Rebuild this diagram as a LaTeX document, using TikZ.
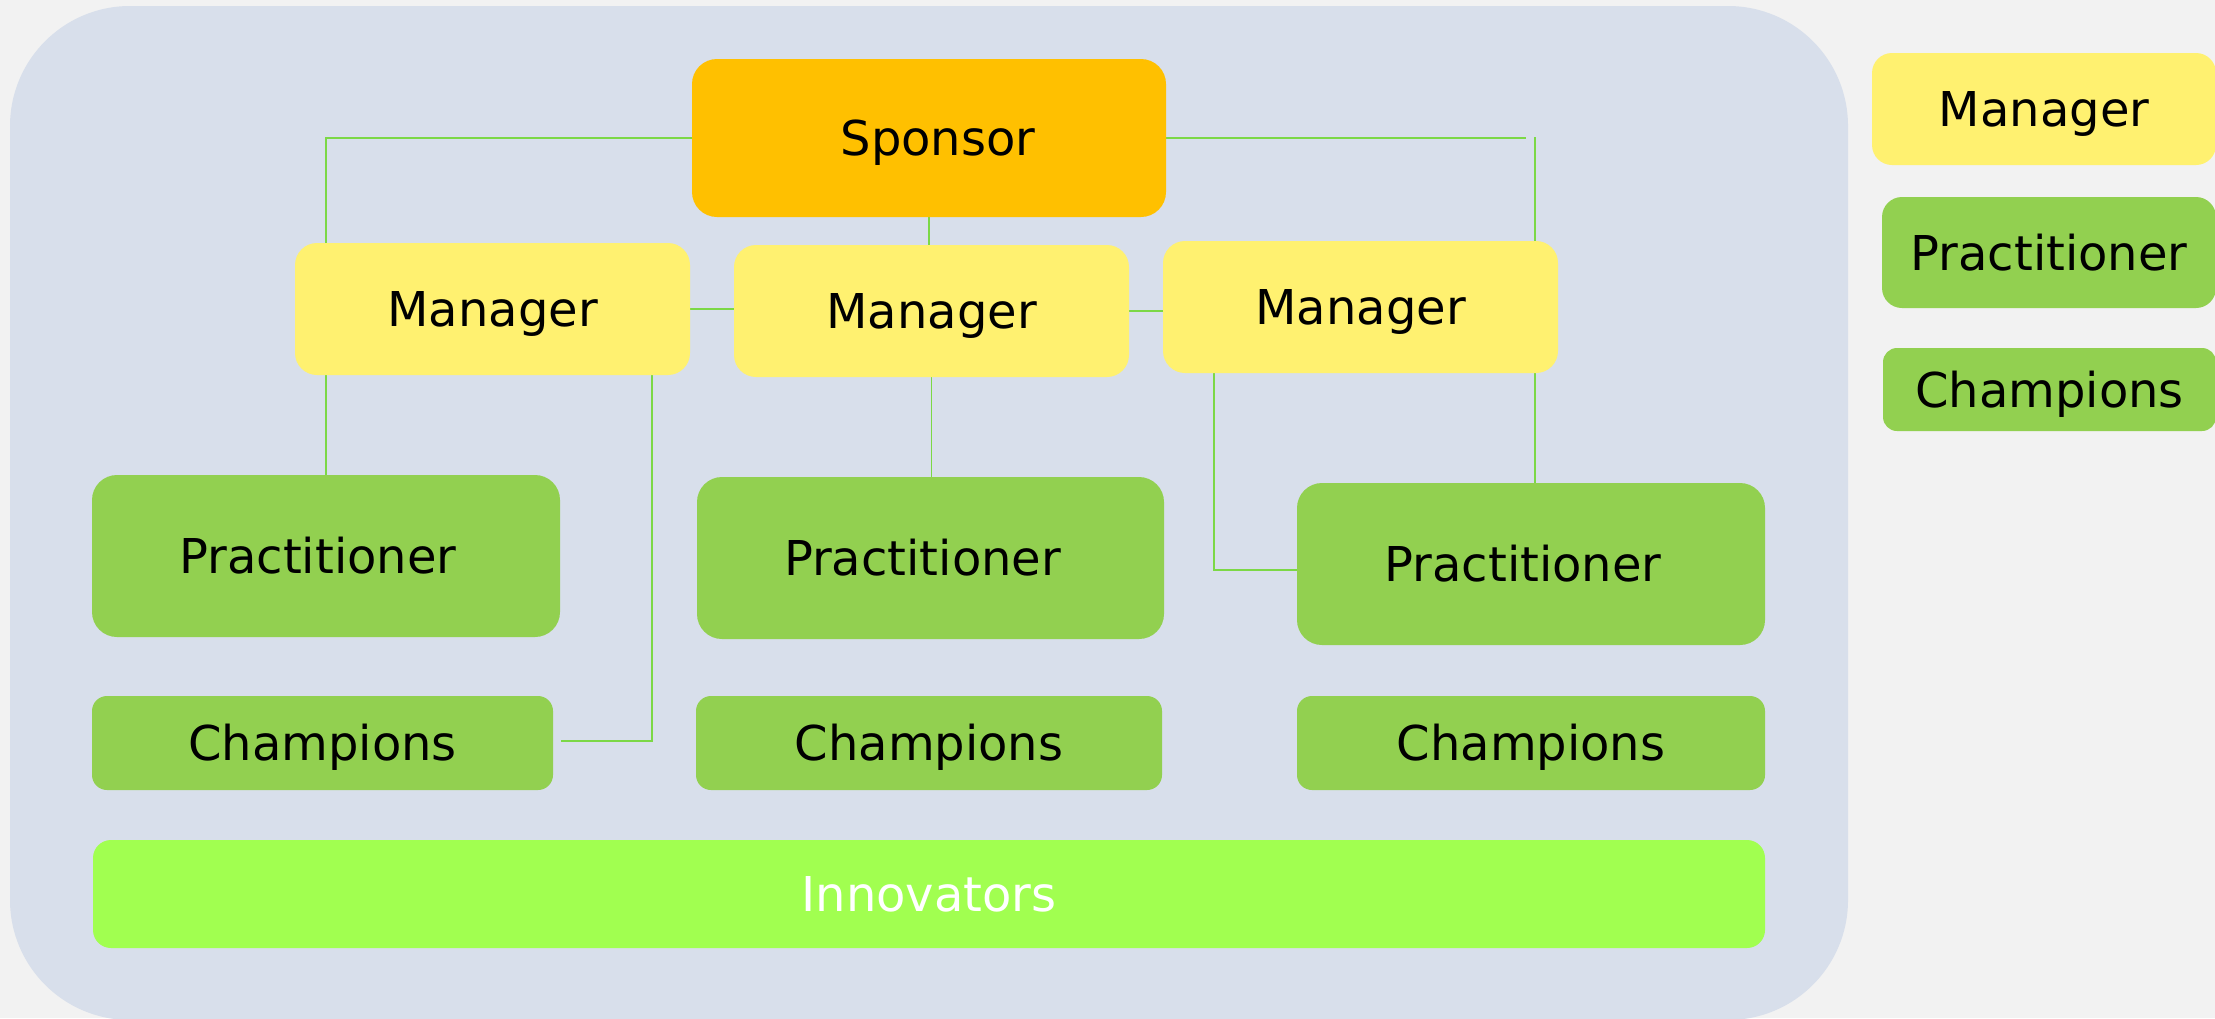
\documentclass[tikz,border=0pt]{standalone}
\usepackage{fontspec}
\setmainfont{DejaVu Sans}
\definecolor{canvas}{HTML}{F2F2F2}
\definecolor{panel}{HTML}{D8DFEB}
\definecolor{sponsorfill}{HTML}{FFC000}
\definecolor{managerfill}{HTML}{FFF170}
\definecolor{practfill}{HTML}{92D050}
\definecolor{innovfill}{HTML}{A1FF50}
\definecolor{wire}{HTML}{7CD846}
\pgfdeclarelayer{back}
\pgfdeclarelayer{wires}
\pgfsetlayers{back,wires,main}

\begin{document}
\begin{tikzpicture}[x=1pt,y=-1pt,
  box/.style={rectangle, inner sep=0pt, text height=35pt, text depth=0pt,
    font=\fontsize{48}{58}\selectfont},
  sponsorbox/.style={box, fill=sponsorfill, rounded corners=25pt},
  managerbox/.style={box, fill=managerfill, rounded corners=22pt},
  practbox/.style={box, fill=practfill, rounded corners=25pt},
  champbox/.style={box, fill=practfill, rounded corners=15pt},
  innovbox/.style={box, fill=innovfill, rounded corners=18pt, text=white},
  keymanager/.style={box, fill=managerfill, rounded corners=20pt},
  keypract/.style={box, fill=practfill, rounded corners=20pt},
  keychamp/.style={box, fill=practfill, rounded corners=14pt},
  link/.style={draw=wire, line width=1.5pt}
]
\useasboundingbox (0,0) rectangle (2215,1018);

% hierarchy boxes
\node[sponsorbox, minimum width=474pt, minimum height=158pt] (sponsor) at (929,138) {\hspace*{18pt}Sponsor};
\node[managerbox, minimum width=395pt, minimum height=132pt] (lmgr) at (492.5,309) {Manager};
\node[managerbox, minimum width=395pt, minimum height=132pt] (mmgr) at (931.5,311) {Manager};
\node[managerbox, minimum width=395pt, minimum height=132pt] (rmgr) at (1360.5,307) {Manager};
\node[practbox, minimum width=468pt, minimum height=162pt] (lprac) at (326,556) {Practitioner\hspace*{16pt}};
\node[practbox, minimum width=467pt, minimum height=162pt] (mprac) at (930.5,558) {Practitioner\hspace*{16pt}};
\node[practbox, minimum width=468pt, minimum height=162pt] (rprac) at (1531,564) {Practitioner\hspace*{16pt}};
\node[champbox, minimum width=461pt, minimum height=94pt] (lchamp) at (322.5,743) {Champions};
\node[champbox, minimum width=466pt, minimum height=94pt] (mchamp) at (929,743) {Champions};
\node[champbox, minimum width=468pt, minimum height=94pt] (rchamp) at (1531,743) {Champions};
\node[innovbox, minimum width=1672pt, minimum height=108pt] (innov) at (929,894) {Innovators};

% key on the right
\node[keymanager, minimum width=344pt, minimum height=112pt] (keymgr) at (2044,109) {Manager};
\node[keypract, minimum width=334pt, minimum height=111pt] (keyprac) at (2049,252.5) {Practitioner};
\node[keychamp, minimum width=333pt, minimum height=83pt] (keychamp) at (2049.5,389.5) {Champions};

% tap points for the elbow connectors
\coordinate (rgap) at (1526,0);
\coordinate (rdrop) at (1535,137);
\coordinate (ltap) at (652,0);
\coordinate (rtap) at (1214,0);

\begin{pgfonlayer}{back}
  \fill[canvas] (0,0) rectangle (2215,1018);
  \fill[panel, rounded corners=120pt] (10,6) rectangle (1848,1020);
\end{pgfonlayer}

\begin{pgfonlayer}{wires}
  \draw[link] (sponsor.west) -| (lprac.north);
  \draw[link] (sponsor.east) -- (sponsor.east -| rgap);
  \draw[link] (rdrop) -- (rdrop |- rprac.north);
  \draw[link] (sponsor.south) -- (sponsor.south |- mmgr.north);
  \draw[link] (lmgr.east) -- (lmgr.east -| mmgr.west);
  \draw[link] (mmgr.east) -- (mmgr.east -| rmgr.west);
  \draw[link] (mmgr.south) -- (mmgr.south |- mprac.north);
  \draw[link] (ltap |- lmgr.south) |- ([xshift=8pt,yshift=2pt]lchamp.east);
  \draw[link] (rtap |- rmgr.south) |- ([yshift=-6pt]rprac.west);
\end{pgfonlayer}
\end{tikzpicture}
\end{document}
